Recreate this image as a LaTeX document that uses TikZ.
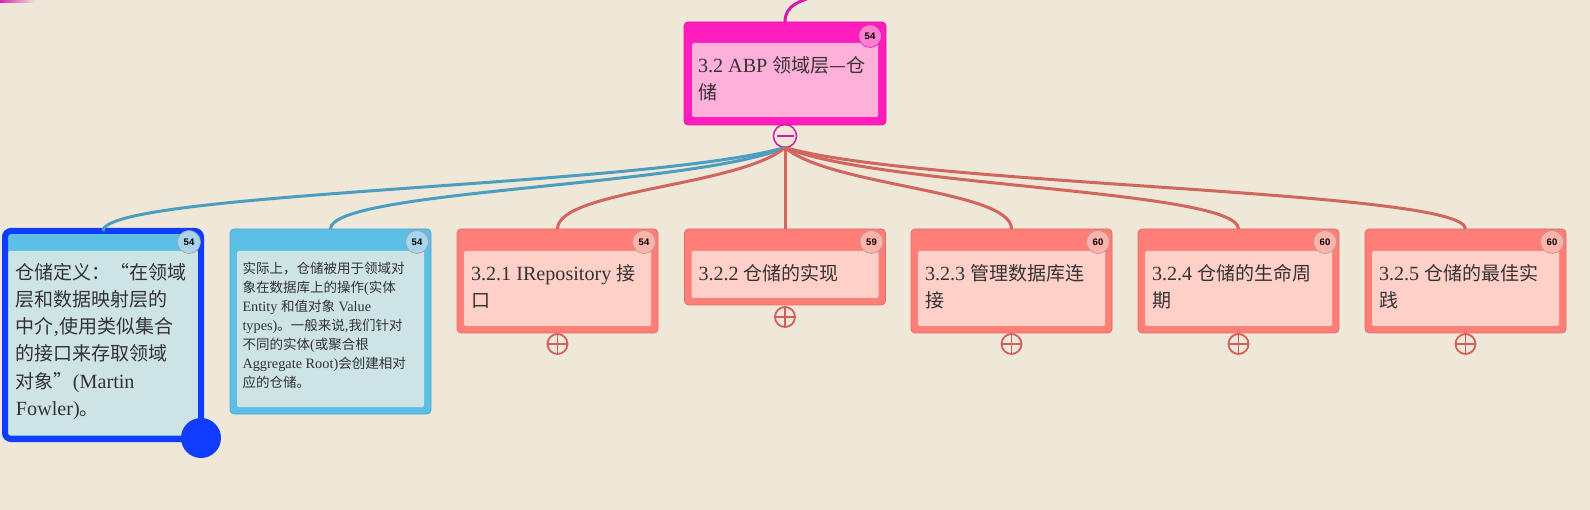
\documentclass[tikz,border=0pt]{standalone}
\usepackage{fontspec}
\setmainfont[Scale=1.06]{Liberation Serif}
\newfontfamily\cjk{Noto Sans CJK SC}
\newfontfamily\badgefont{Liberation Sans}
\newcommand\zhtext[1]{{\cjk #1}}
\usetikzlibrary{calc}
\definecolor{bg}{HTML}{EFE8D8}
\definecolor{rootHead}{HTML}{FF1DBE}
\definecolor{rootEdge}{HTML}{E0189F}
\definecolor{rootIn}{HTML}{FFB0DA}
\definecolor{rootBadge}{HTML}{FF7FD0}
\definecolor{magline}{HTML}{D61AAE}
\definecolor{blueHead}{HTML}{5DBFE6}
\definecolor{blueEdge}{HTML}{4FA6CC}
\definecolor{blueIn}{HTML}{CDE3E6}
\definecolor{blueBadge}{HTML}{A6D5EC}
\definecolor{blueConn}{HTML}{4B9EBF}
\definecolor{redHead}{HTML}{FF7F78}
\definecolor{redEdge}{HTML}{E06D66}
\definecolor{redIn}{HTML}{FFD0C7}
\definecolor{redBadge}{HTML}{FFB3AB}
\definecolor{redConn}{HTML}{D0665E}
\definecolor{plusc}{HTML}{D0605C}
\definecolor{selBlue}{HTML}{0F3CFF}
\definecolor{textc}{HTML}{333333}
\definecolor{badgeEdge}{HTML}{B09A96}
\newcommand\conn[2]{\draw[#1] let \p1=(cs.south), \p2=(#2.north) in (\p1) .. controls ({\x1+0.2*(\x2-\x1)},{\y1-39pt}) and (\x2,{\y2+39pt}) .. (\p2);}
\begin{document}
\begin{tikzpicture}[x=1pt,y=-1pt,
  box/.style={rectangle, rounded corners=4pt, inner sep=0pt, outer sep=0pt, line width=0.8pt},
  inbox/.style={rectangle, rounded corners=1.5pt, inner sep=0pt, outer sep=0pt},
  badge/.style={circle, minimum size=23pt, inner sep=0pt, line width=0.6pt, draw=badgeEdge, text=black, font=\badgefont\bfseries\fontsize{9.5}{10}\selectfont},
  txt/.style={anchor=north west, align=left, inner sep=0pt, outer sep=0pt, text=textc, font=\fontsize{19}{27.3}\selectfont},
  smalltxt/.style={txt, font=\fontsize{13.5}{19}\selectfont},
  plusbtn/.style={circle, minimum size=20pt, inner sep=0pt, draw=plusc, line width=1.8pt},
  blueconn/.style={draw=blueConn, line width=3pt},
  redconn/.style={draw=redConn, line width=3pt},
  magconn/.style={draw=magline, line width=3pt}
]
\path[fill=bg] (0,0) rectangle (1590,510);
\useasboundingbox (0,0) rectangle (1590,510);
\fill[left color=magline, right color=bg] (-2,-1) rectangle (36,2.5);

% root
\node[box, fill=rootHead, draw=rootEdge, minimum width=202pt, minimum height=103pt] (root) at (785,73.5) {};
\node[inbox, fill=rootIn, minimum width=186pt, minimum height=74pt] (rootin) at (785,80) {};
\node[badge, fill=rootBadge, draw=magline] (rootb) at (870,36) {54};
\node[txt] (roott) at (698,52.9) {\strut 3.2 ABP \zhtext{领域层—仓}\\\zhtext{储}};
\coordinate (topend) at (832,-8);
\draw[magconn] (root.north) .. controls (785,6) and (797,0) .. (topend);
\node[circle, draw=magline, line width=1.5pt, minimum size=23pt, inner sep=0pt, outer sep=0pt] (cs) at (785,136) {};
\draw[magline, line width=2pt] ([xshift=3pt]cs.west) -- ([xshift=-3pt]cs.east);

% child 1 (selected)
\node[box, fill=blueHead, minimum width=196pt, minimum height=208pt, rounded corners=6pt] (n1) at (103,335) {};
\node[inbox, fill=blueIn, minimum width=190pt, minimum height=184pt] (n1in) at (103,343) {};
\draw[selBlue, line width=6pt, rounded corners=6pt] (n1.south west) rectangle (n1.north east);
\node[badge, fill=blueBadge] (n1b) at (189,242) {54};
\node[txt] (n1t) at (16,259.9) {\strut\zhtext{仓储定义：“在领域}\\\zhtext{层和数据映射层的}\\\zhtext{中介},\zhtext{使用类似集合}\\\zhtext{的接口来存取领域}\\\zhtext{对象”}(Martin\\Fowler)\zhtext{。}};
\node[circle, fill=selBlue, minimum size=40pt, inner sep=0pt] (h1) at (201,438) {};

% child 2
\node[box, fill=blueHead, draw=blueEdge, minimum width=201pt, minimum height=185pt] (n2) at (330.5,321.5) {};
\node[inbox, fill=blueIn, minimum width=187pt, minimum height=156pt] (n2in) at (330.5,329) {};
\node[badge, fill=blueBadge] (n2b) at (417,242) {54};
\node[smalltxt] (n2t) at (242.5,259.8) {\strut\zhtext{实际上，仓储被用于领域对}\\\zhtext{象在数据库上的操作}(\zhtext{实体}\\Entity \zhtext{和值对象} Value\\types)\zhtext{。一般来说},\zhtext{我们针对}\\\zhtext{不同的实体}(\zhtext{或聚合根}\\Aggregate Root)\zhtext{会创建相对}\\\zhtext{应的仓储。}};

% child 3
\node[box, fill=redHead, draw=redEdge, minimum width=201pt, minimum height=104pt] (n3) at (557.5,281) {};
\node[inbox, fill=redIn, minimum width=187pt, minimum height=75pt] (n3in) at (557.5,288.5) {};
\node[badge, fill=redBadge] (n3b) at (644,242) {54};
\node[txt] (n3t) at (471,260.9) {\strut 3.2.1 IRepository \zhtext{接}\\\zhtext{口}};
\node[plusbtn] (p3) at (557.5,344) {};
\draw[plusc, line width=1.8pt] (p3.west) -- (p3.east) (p3.north) -- (p3.south);

% child 4
\node[box, fill=redHead, draw=redEdge, minimum width=201pt, minimum height=76pt] (n4) at (785,267) {};
\node[inbox, fill=redIn, minimum width=187pt, minimum height=47pt] (n4in) at (785,274.5) {};
\node[badge, fill=redBadge] (n4b) at (871.5,242) {59};
\node[txt] (n4t) at (698.5,260.9) {\strut 3.2.2 \zhtext{仓储的实现}};
\node[plusbtn] (p4) at (785,317) {};
\draw[plusc, line width=1.8pt] (p4.west) -- (p4.east) (p4.north) -- (p4.south);

% child 5
\node[box, fill=redHead, draw=redEdge, minimum width=201pt, minimum height=104pt] (n5) at (1011.5,281) {};
\node[inbox, fill=redIn, minimum width=187pt, minimum height=75pt] (n5in) at (1011.5,288.5) {};
\node[badge, fill=redBadge] (n5b) at (1098,242) {60};
\node[txt] (n5t) at (925,260.9) {\strut 3.2.3 \zhtext{管理数据库连}\\\zhtext{接}};
\node[plusbtn] (p5) at (1011.5,344) {};
\draw[plusc, line width=1.8pt] (p5.west) -- (p5.east) (p5.north) -- (p5.south);

% child 6
\node[box, fill=redHead, draw=redEdge, minimum width=201pt, minimum height=104pt] (n6) at (1238.5,281) {};
\node[inbox, fill=redIn, minimum width=187pt, minimum height=75pt] (n6in) at (1238.5,288.5) {};
\node[badge, fill=redBadge] (n6b) at (1325,242) {60};
\node[txt] (n6t) at (1152,260.9) {\strut 3.2.4 \zhtext{仓储的生命周}\\\zhtext{期}};
\node[plusbtn] (p6) at (1238.5,344) {};
\draw[plusc, line width=1.8pt] (p6.west) -- (p6.east) (p6.north) -- (p6.south);

% child 7
\node[box, fill=redHead, draw=redEdge, minimum width=201pt, minimum height=104pt] (n7) at (1465.5,281) {};
\node[inbox, fill=redIn, minimum width=187pt, minimum height=75pt] (n7in) at (1465.5,288.5) {};
\node[badge, fill=redBadge] (n7b) at (1552,242) {60};
\node[txt] (n7t) at (1379,260.9) {\strut 3.2.5 \zhtext{仓储的最佳实}\\\zhtext{践}};
\node[plusbtn] (p7) at (1465.5,344) {};
\draw[plusc, line width=1.8pt] (p7.west) -- (p7.east) (p7.north) -- (p7.south);

% connectors
\conn{blueconn}{n1}
\conn{blueconn}{n2}
\conn{redconn}{n3}
\draw[redconn] (cs.south) -- (n4.north);
\conn{redconn}{n5}
\conn{redconn}{n6}
\conn{redconn}{n7}
\end{tikzpicture}
\end{document}
